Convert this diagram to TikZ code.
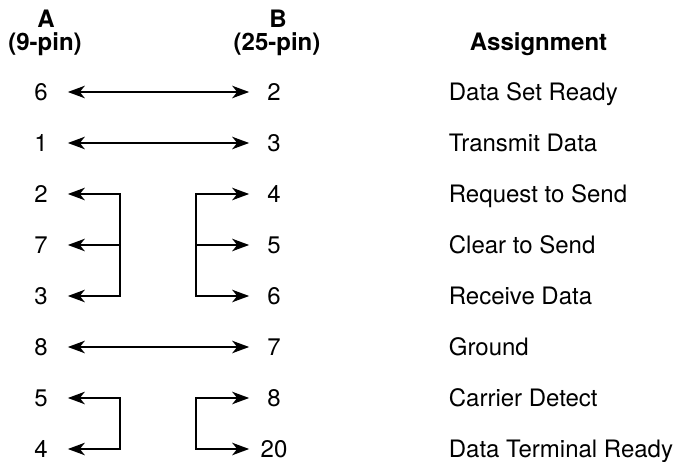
\documentclass[tikz,border=0pt]{standalone}
\usepackage{fontspec}
\setmainfont{TeX Gyre Heros}
\usepackage{tikz}
\usetikzlibrary{arrows.meta,calc}
\tikzset{every picture/.style={line width=1.7pt}}

\begin{document}
\begin{tikzpicture}[x=1pt, y=-1pt, >={Stealth[length=17pt, width=12.5pt, inset=5pt]},
    font=\fontsize{24}{28}\selectfont,
    pinA/.style={inner sep=0pt, text height=17pt, text depth=0pt, minimum width=52pt},
    pinB/.style={inner sep=0pt, text height=17pt, text depth=0pt, minimum width=48pt},
    sig/.style={inner sep=0pt, anchor=base west}]
    \useasboundingbox (0, 0) rectangle (684, 462);

    % Kopfzeile
    \node[inner sep=0pt, anchor=base, font=\fontsize{24}{28}\selectfont\bfseries] (hA) at (46, 28) {A};
    \node[inner sep=0pt, anchor=base, font=\fontsize{24}{28}\selectfont\bfseries] (hApin) at (45, 51) {(9-pin)};
    \node[inner sep=0pt, anchor=base, font=\fontsize{24}{28}\selectfont\bfseries] (hB) at (278, 28) {B};
    \node[inner sep=0pt, anchor=base, font=\fontsize{24}{28}\selectfont\bfseries] (hBpin) at (277, 51) {(25-pin)};
    \node[inner sep=0pt, anchor=base west, font=\fontsize{24}{28}\selectfont\bfseries] (hSig) at (469, 51) {Assignment};

    % Pins und Signale
    \foreach \i/\a/\b/\txt in {0/6/2/Data Set Ready, 1/1/3/Transmit Data, 2/2/4/Request to Send,
        3/7/5/Clear to Send, 4/3/6/Receive Data, 5/8/7/Ground, 6/5/8/Carrier Detect,
        7/4/20/Data Terminal Ready} {
        \node[pinA] (a\i) at (41, {92+51*\i}) {\a};
        \node[pinB] (b\i) at (274, {92+51*\i}) {\b};
        \node[sig] (t\i) at (448, {100.5+51*\i}) {\txt};
    }

    % durchgehende Leitungen
    \foreach \i in {0, 1, 5} {
        \draw[<->] (a\i) -- (b\i);
    }

    % Brücken
    \coordinate (lx) at (120, 0);
    \coordinate (rx) at (196, 0);
    \draw[<->] (a2) -- (a2 -| lx) -- (a4 -| lx) -- (a4);
    \draw[->] (a3 -| lx) -- (a3);
    \draw[<->] (b2) -- (b2 -| rx) -- (b4 -| rx) -- (b4);
    \draw[->] (b3 -| rx) -- (b3);
    \draw[<->] (a6) -- (a6 -| lx) -- (a7 -| lx) -- (a7);
    \draw[<->] (b6) -- (b6 -| rx) -- (b7 -| rx) -- (b7);
\end{tikzpicture}
\end{document}
